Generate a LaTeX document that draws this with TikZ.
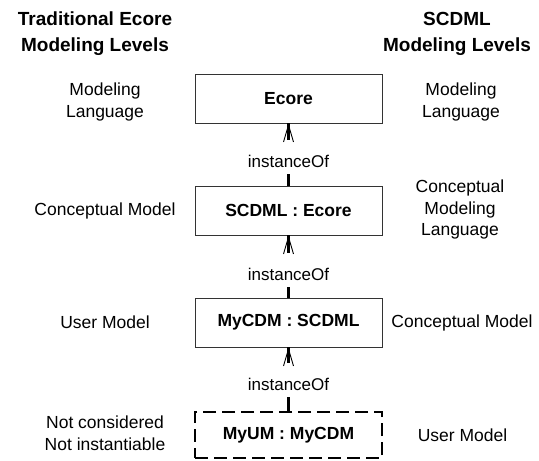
\documentclass[tikz,border=0pt]{standalone}
\usepackage{fontspec}
\setmainfont{Liberation Sans}
\usetikzlibrary{arrows.meta}
\begin{document}
\begin{tikzpicture}[x=1pt,y=-1pt,
  lvl/.style={align=center, font=\fontsize{17.5}{21.5}\selectfont, inner sep=0pt},
  heading/.style={align=center, font=\fontsize{19}{26}\selectfont\bfseries, inner sep=0pt},
  box/.style={draw=black!80, line width=0.8pt, minimum width=187pt, minimum height=49pt,
              font=\fontsize{17.5}{20}\selectfont\bfseries, inner sep=0pt},
  dbox/.style={box, draw=black, dash pattern=on 13pt off 6pt, line width=2.6pt, minimum height=46pt},
  inst/.style={line width=2.6pt},
  lbl/.style={font=\fontsize{17}{20}\selectfont, inner xsep=0pt, inner ysep=0pt, text height=27pt, text depth=7pt},
  arrowhd/.style={line width=0.9pt, -{Straight Barb[length=17pt,width=10pt,line width=0.9pt]}}
]
\useasboundingbox (0,0) rectangle (539,461);
\fill[white] (0,0) rectangle (539,461);

% headings
\node[heading] (hl) at (95,34) {Traditional Ecore\\Modeling Levels};
\node[heading] (hr) at (457,34) {SCDML\\Modeling Levels};

% boxes
\node[box] (ecore) at (288.5,98.5) {Ecore};
\node[box] (scdml) at (288.5,210.5) {SCDML : Ecore};
\node[box] (mycdm) at (288.5,322.5) {MyCDM : SCDML};
\node[dbox] (myum) at (288.5,435) {MyUM : MyCDM};

% labels
\node[lbl] (l1) at (288.5,157) {instanceOf};
\node[lbl] (l2) at (288.5,270) {instanceOf};
\node[lbl] (l3) at (288.5,380) {instanceOf};

% connectors
\draw[inst] (ecore.south) -- (l1.north);
\draw[inst] (l1.south) -- (scdml.north);
\draw[arrowhd] (l1.north) -- (ecore.south);
\draw[inst] (scdml.south) -- (l2.north);
\draw[inst] (l2.south) -- (mycdm.north);
\draw[arrowhd] (l2.north) -- (scdml.south);
\draw[inst] (mycdm.south) -- (l3.north);
\draw[inst] (l3.south) -- (myum.north);
\draw[arrowhd] (l3.north) -- (mycdm.south);

% left column
\node[lvl] (a1) at (105,102) {Modeling\\Language};
\node[lvl] (a2) at (105,210.5) {Conceptual Model};
\node[lvl] (a3) at (105,322.5) {User Model};
\node[lvl] (a4) at (105,433) {Not considered\\Not instantiable};

% right column
\node[lvl] (b1) at (461,102) {Modeling\\Language};
\node[lvl] (b2) at (460,209.5) {Conceptual\\Modeling\\Language};
\node[lvl] (b3) at (462,322.5) {Conceptual Model};
\node[lvl] (b4) at (462.5,435) {User Model};
\end{tikzpicture}
\end{document}
